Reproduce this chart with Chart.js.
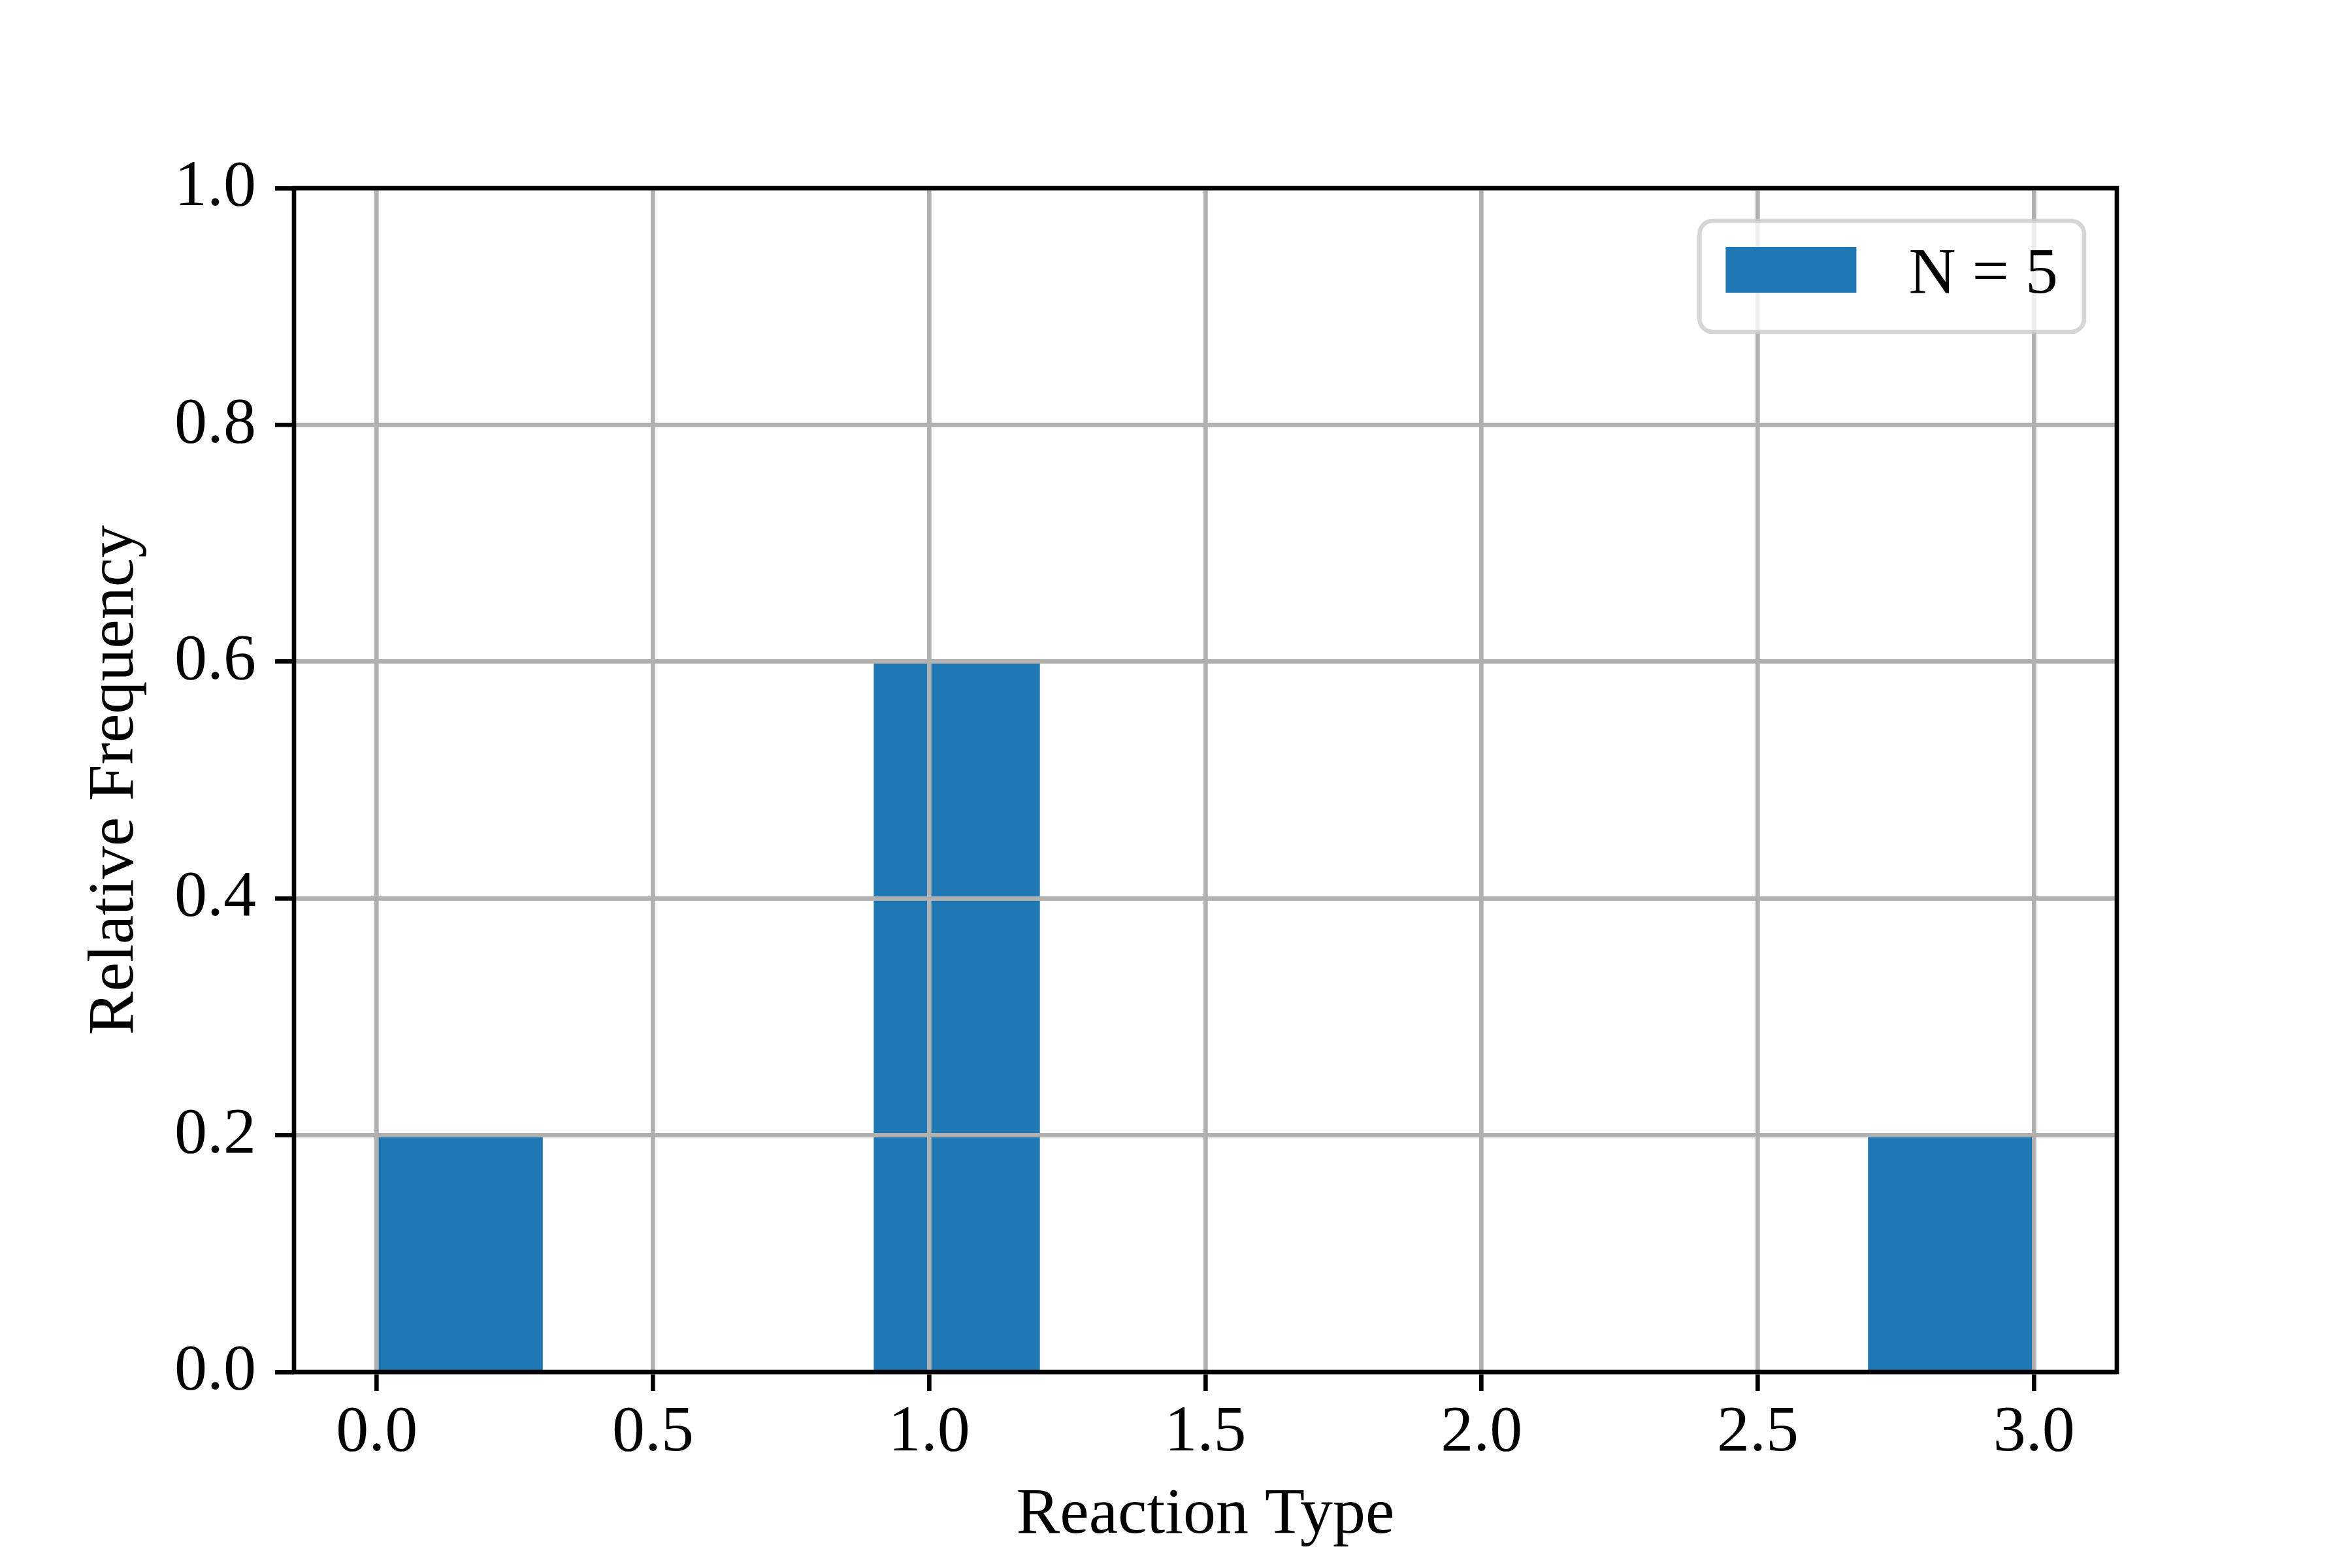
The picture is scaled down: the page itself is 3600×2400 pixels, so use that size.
<!DOCTYPE html>
<html>
<head>
<meta charset="utf-8">
<title>Reaction Type histogram</title>
<script src="https://cdn.jsdelivr.net/npm/chart.js@4.4.1/dist/chart.umd.min.js"></script>
<style>
  html, body { margin: 0; padding: 0; background: #fff; }
  canvas { display: block; }
</style>
</head>
<body>
<canvas id="myChart" width="3600" height="2400"></canvas>
<script>
// ***** Const init *****
const binEdges = [0.0, 0.3, 0.6, 0.9, 1.2, 1.5, 1.8, 2.1, 2.4, 2.7, 3.0];
const relFreq = [0.2, 0.0, 0.0, 0.6, 0.0, 0.0, 0.0, 0.0, 0.0, 0.2];
const seriesLabel = 'N = 5';
const xTicks = [0.0, 0.5, 1.0, 1.5, 2.0, 2.5, 3.0];
const yTicks = [0.0, 0.2, 0.4, 0.6, 0.8, 1.0];
const xTitle = 'Reaction Type';
const yTitle = 'Relative Frequency';

// Styles (600 dpi: 1pt = 8.33px)
const fontFamily = "'Liberation Serif', 'Times New Roman', serif";
const fontSize = 100;
const lineW = 6.67;
const barColor = '#1f77b4';
const gridColor = '#b0b0b0';

// Histogram bins -> bar points at bin centres
const barPoints = relFreq.map((v, i) => ({ x: (binEdges[i] + binEdges[i + 1]) / 2, y: v }));
const xMargin = (binEdges[binEdges.length - 1] - binEdges[0]) * 0.05;
// ***** Const end *****

// Spines drawn over the grid, like matplotlib
const spinesPlugin = {
  id: 'spines',
  afterDraw: (chart) => {
    const { ctx, chartArea: a } = chart;
    ctx.save();
    ctx.strokeStyle = '#000';
    ctx.lineWidth = lineW;
    ctx.lineJoin = 'miter';
    ctx.strokeRect(a.left, a.top, a.right - a.left, a.bottom - a.top);
    ctx.restore();
  }
};

// Framed legend in the upper right of the plot area
const legendBoxPlugin = {
  id: 'legendBox',
  afterDraw: (chart) => {
    const { ctx, chartArea: a } = chart;
    const ds = chart.data.datasets[0];
    const em = fontSize;
    ctx.save();
    ctx.font = `${em}px ${fontFamily}`;
    const textW = ctx.measureText(ds.label).width;
    const w = 0.4 * em + 2.0 * em + 0.8 * em + textW + 0.4 * em;
    const h = 1.7 * em;
    const x0 = a.right - 0.5 * em - w;
    const y0 = a.top + 0.5 * em;
    const r = 0.2 * em;

    ctx.beginPath();
    ctx.moveTo(x0 + r, y0);
    ctx.lineTo(x0 + w - r, y0);
    ctx.arcTo(x0 + w, y0, x0 + w, y0 + r, r);
    ctx.lineTo(x0 + w, y0 + h - r);
    ctx.arcTo(x0 + w, y0 + h, x0 + w - r, y0 + h, r);
    ctx.lineTo(x0 + r, y0 + h);
    ctx.arcTo(x0, y0 + h, x0, y0 + h - r, r);
    ctx.lineTo(x0, y0 + r);
    ctx.arcTo(x0, y0, x0 + r, y0, r);
    ctx.closePath();
    ctx.fillStyle = 'rgba(255,255,255,0.8)';
    ctx.fill();
    ctx.strokeStyle = 'rgba(204,204,204,0.8)';
    ctx.lineWidth = lineW;
    ctx.stroke();

    const sx = x0 + 0.4 * em;
    ctx.fillStyle = ds.backgroundColor;
    ctx.fillRect(sx, a.top + 0.9 * em, 2.0 * em, 0.7 * em);

    ctx.fillStyle = '#000';
    ctx.textBaseline = 'alphabetic';
    ctx.textAlign = 'left';
    ctx.fillText(ds.label, sx + 2.8 * em, a.top + 1.6 * em);
    ctx.restore();
  }
};

const tickFont = { family: fontFamily, size: fontSize, lineHeight: 1.2 };

const configChart = {
  type: 'bar',
  data: {
    datasets: [
      {
        label: seriesLabel,
        data: barPoints,
        backgroundColor: barColor,
        borderWidth: 0,
        barPercentage: 1.0,
        categoryPercentage: 1.0
      }
    ]
  },
  options: {
    responsive: false,
    devicePixelRatio: 1,
    animation: false,
    events: [],
    layout: { padding: { left: 0, top: 288, right: 360, bottom: 0 } },
    plugins: {
      legend: { display: false },
      tooltip: { enabled: false }
    },
    scales: {
      x: {
        type: 'linear',
        offset: false,
        min: binEdges[0] - xMargin,
        max: binEdges[binEdges.length - 1] + xMargin,
        afterBuildTicks: (scale) => { scale.ticks = xTicks.map((v) => ({ value: v })); },
        afterFit: (scale) => { scale.height = 300; },
        grid: {
          z: 1,
          offset: false,
          color: gridColor,
          lineWidth: lineW,
          tickColor: '#000',
          tickWidth: lineW,
          tickLength: 29
        },
        border: { display: false },
        ticks: {
          color: '#000',
          font: tickFont,
          padding: 5,
          maxRotation: 0,
          autoSkip: false,
          callback: (v) => Number(v).toFixed(1)
        },
        title: {
          display: true,
          text: xTitle,
          color: '#000',
          font: tickFont,
          padding: { top: 0, bottom: 20 }
        }
      },
      y: {
        type: 'linear',
        min: yTicks[0],
        max: yTicks[yTicks.length - 1],
        afterBuildTicks: (scale) => { scale.ticks = yTicks.map((v) => ({ value: v })); },
        afterFit: (scale) => { scale.width = 450; },
        grid: {
          z: 1,
          color: gridColor,
          lineWidth: lineW,
          tickColor: '#000',
          tickWidth: lineW,
          tickLength: 29
        },
        border: { display: false },
        ticks: {
          color: '#000',
          font: tickFont,
          padding: 29,
          autoSkip: false,
          callback: (v) => Number(v).toFixed(1)
        },
        title: {
          display: true,
          text: yTitle,
          color: '#000',
          font: tickFont,
          padding: { top: 117, bottom: 0 }
        }
      }
    }
  },
  plugins: [spinesPlugin, legendBoxPlugin]
};

// Initialize chart
const histChart = new Chart(document.getElementById('myChart'), configChart);
</script>
</body>
</html>
